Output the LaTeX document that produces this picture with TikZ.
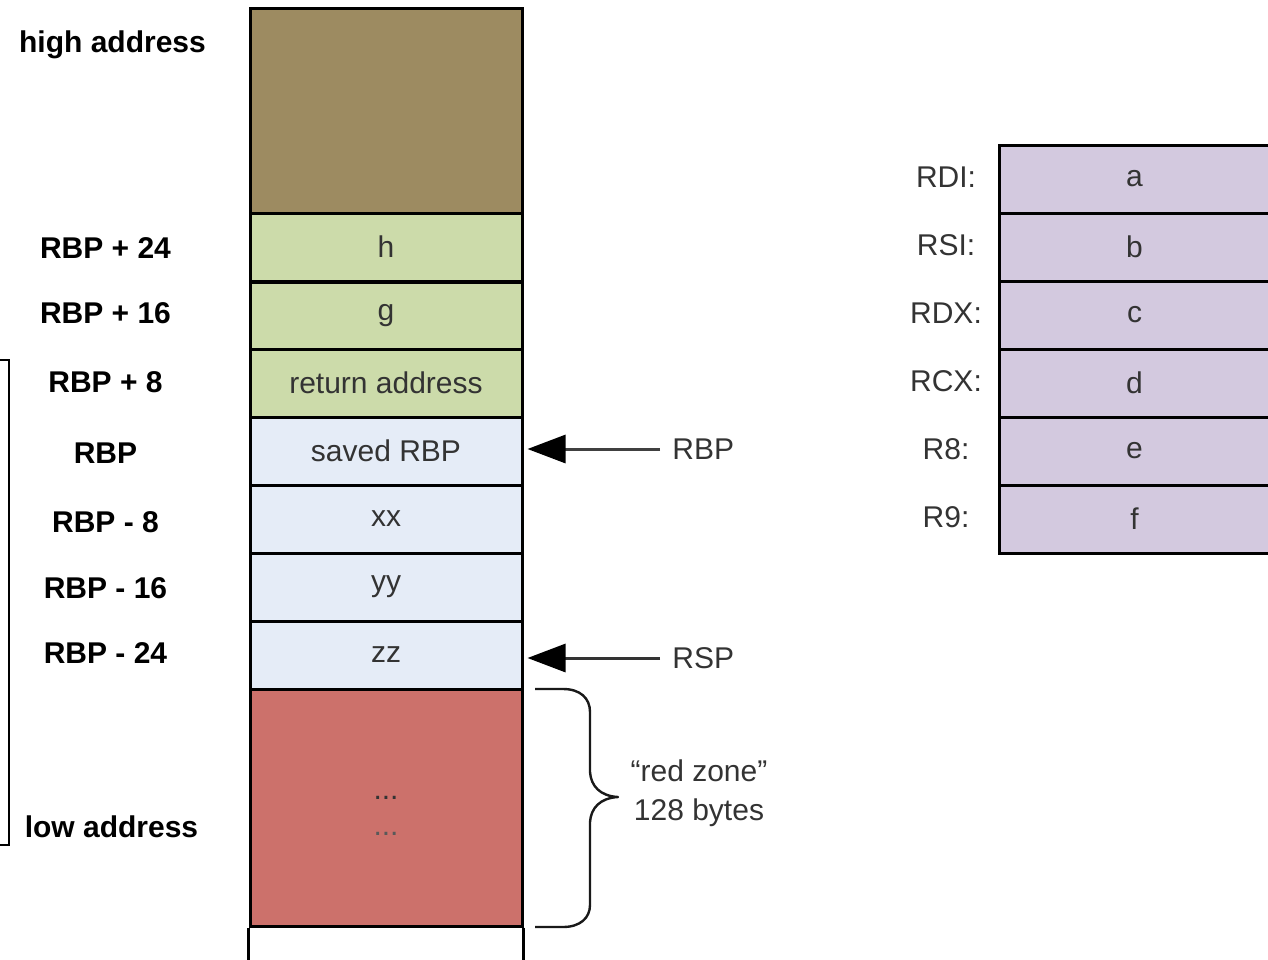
\documentclass[tikz,border=0pt]{standalone}
\usepackage{fontspec}
\setmainfont{Liberation Sans}
\usetikzlibrary{arrows.meta}
\definecolor{brownc}{HTML}{9D8B61}
\definecolor{greenc}{HTML}{CCDBAA}
\definecolor{bluec}{HTML}{E5ECF7}
\definecolor{redc}{HTML}{CC716B}
\definecolor{purplec}{HTML}{D3C9DF}
\definecolor{txt}{HTML}{333333}
\begin{document}
\begin{tikzpicture}[x=0.5pt,y=-0.5pt,
  basefont/.style={font=\fontsize{15}{18}\selectfont},
  cell/.style={basefont, draw=black, line width=1.5pt, minimum width=136pt,
    minimum height=34pt, inner sep=0pt, text=txt},
  regcell/.style={cell, minimum width=135.5pt, fill=purplec},
  boldlbl/.style={font=\fontsize{15}{18}\selectfont\bfseries, text=black, inner sep=0pt, anchor=base},
  lbl/.style={basefont, text=txt, inner sep=0pt},
  ptr/.style={draw=txt, line width=1.5pt, -{Triangle[length=19pt,width=14pt,color=black]}},
  bracepath/.style={draw=black!90, line width=1.2pt, line join=round}
]
\useasboundingbox (0,0) rectangle (1268,959);

% stack
\node[cell, fill=brownc, minimum height=102.5pt] (hi) at (386,110.5) {};
\node[cell, fill=greenc] (ch) at (386,247) {h};
\node[cell, fill=greenc] (cg) at (386,316) {g};
\node[cell, fill=greenc] (cra) at (386,383) {return address};
\node[cell, fill=bluec] (sbp) at (386,451) {saved RBP};
\node[cell, fill=bluec] (cxx) at (386,519) {xx};
\node[cell, fill=bluec] (cyy) at (386,587) {yy};
\node[cell, fill=bluec] (czz) at (386,655) {zz};
\node[cell, fill=redc, minimum height=118.5pt] (red) at (386,807.5) {};
\node[lbl, anchor=base, text=black!80] (d1) at (386,799) {...};
\node[lbl, anchor=base, text=black!65] (d2) at (386,835) {...};
\coordinate (bl) at (250,975);
\coordinate (br) at (522,975);
\draw[line width=1.5pt] (red.south west) -- (red.south west |- bl);
\draw[line width=1.5pt] (red.south east) -- (red.south east |- br);

% left labels
\node[boldlbl] (lhigh) at (112.5,52) {high address};
\node[boldlbl] (l24) at (105.5,258) {RBP + 24};
\node[boldlbl] (l16) at (105.5,323) {RBP + 16};
\node[boldlbl] (l8) at (105.5,392) {RBP + 8};
\node[boldlbl] (l0) at (105.5,463) {RBP};
\node[boldlbl] (lm8) at (105.5,532) {RBP - 8};
\node[boldlbl] (lm16) at (105.5,598) {RBP - 16};
\node[boldlbl] (lm24) at (105.5,663) {RBP - 24};
\node[boldlbl] (llow) at (111.5,837) {low address};

% left bracket
\draw[line width=1.2pt] (-5,360) -- (9,360) -- (9,845) -- (-5,845);

% pointers
\node[lbl, anchor=west, inner sep=6pt] (rbpl) at (660,449) {RBP};
\node[lbl, anchor=west, inner sep=6pt] (rspl) at (660,658) {RSP};
\draw[ptr, draw=black!75] (rbpl.west) -- ([xshift=2pt]rbpl.west -| sbp.east);
\draw[ptr] (rspl.west) -- ([xshift=2pt]rspl.west -| czz.east);

% brace
\draw[bracepath] (535,689) -- (563,689) .. controls (580,689) and (590,698) .. (590,712)
  -- (590,772) .. controls (591,786) and (600,796) .. (618,797)
  .. controls (600,798) and (591,808) .. (590,822)
  -- (590,905) .. controls (590,918) and (580,927) .. (563,927) -- (535,927);
\node[lbl, align=center, font=\fontsize{15}{19.5}\selectfont] (rz) at (699,793) {“red zone”\\128 bytes};

% registers
\node[regcell] (ra) at (1134.5,179) {a};
\node[regcell] (rb) at (1134.5,247) {b};
\node[regcell] (rc) at (1134.5,315) {c};
\node[regcell] (rd) at (1134.5,383) {d};
\node[regcell] (re) at (1134.5,451) {e};
\node[regcell] (rf) at (1134.5,519) {f};
\node[lbl] (lrdi) at (946,177) {RDI:};
\node[lbl] (lrsi) at (946,245) {RSI:};
\node[lbl] (lrdx) at (946,313) {RDX:};
\node[lbl] (lrcx) at (946,381) {RCX:};
\node[lbl] (lr8) at (946,449) {R8:};
\node[lbl] (lr9) at (946,517) {R9:};
\end{tikzpicture}
\end{document}
